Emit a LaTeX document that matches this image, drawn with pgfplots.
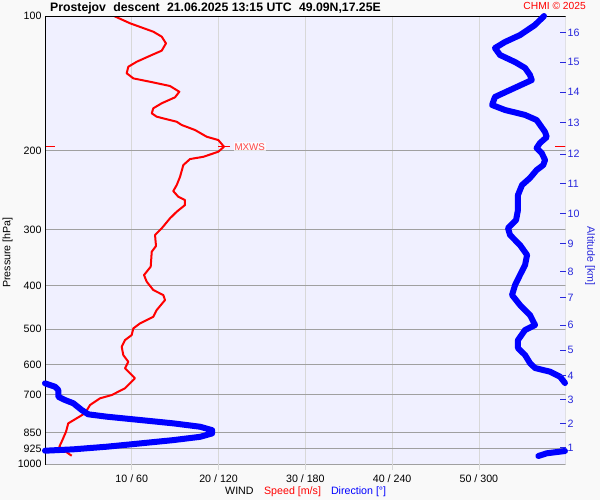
\documentclass[border=0pt]{standalone}
\usepackage{pgfplots}
\pgfplotsset{compat=1.18}
\usepackage{fontspec}
\setmainfont{Liberation Sans}
\definecolor{outerbg}{RGB}{249,249,249}
\definecolor{plotbg}{RGB}{240,240,255}
\definecolor{hgrid}{RGB}{160,160,160}
\definecolor{vgrid}{RGB}{216,216,216}
\definecolor{altblue}{RGB}{40,40,220}
\definecolor{mxred}{RGB}{255,70,70}
\newcommand{\tfont}{\fontsize{10.7}{12}\selectfont}
\begin{document}
\begin{tikzpicture}
\useasboundingbox (0,0) rectangle (600bp,500bp);
\fill[outerbg] (0,0) rectangle (600bp,500bp);
% main speed axis
\begin{axis}[
  at={(45bp,36bp)}, anchor=south west,
  width=520.7bp, height=448bp, scale only axis,
  xmin=0, xmax=60,
  ymode=log, ymin=100, ymax=1000, y dir=reverse,
  axis background/.style={fill=plotbg},
  axis line style={draw=none},
  ytick={100,200,300,400,500,600,700,850,925,1000},
  yticklabels={100,200,300,400,500,600,700,850,925,1000},
  xtick={10,20,30,40,50},
  xticklabels={10 / 60,20 / 120,30 / 180,40 / 240,50 / 300},
  xmajorgrids, ymajorgrids,
  x grid style={vgrid, line width=0.8bp},
  y grid style={hgrid, line width=0.8bp},
  tick label style={font=\tfont, inner sep=0pt},
  yticklabel style={anchor=east, xshift=2.7bp},
  xticklabel style={anchor=center, yshift=-8.3bp},
  xtick pos=bottom, tick align=outside, major tick length=6bp,
  x tick style={vgrid, line width=0.8bp},
  ytick style={draw=none},
  minor tick num=0,
  log basis y=10,
]
\addplot[red, line width=2bp, line join=round, sharp plot] coordinates {
(7.95,100) (9.79,103.8) (12.48,108.4) (13.45,111.2) (13.94,115.1) (13.45,119.5) (12.30,122.2) (10.57,126.5) (9.60,129.8) (9.41,134.2) (10.18,137.8) (12.10,140.2) (14.40,143.3) (15.48,147.6) (14.98,151.9) (13.45,156.6) (12.48,160.7) (12.30,164.9) (12.87,167.8) (15.18,172.2) (15.75,175.1) (17.29,179.7) (18.63,186.0) (19.97,189.2) (20.63,195.8) (19.97,200.9) (18.24,206.2) (16.71,208.6) (15.94,215.1) (15.56,228.5) (15.18,238.4) (14.78,245.9) (15.36,253.2) (16.13,257.5) (16.13,264.2) (15.18,273.4) (14.40,282.9) (13.45,297.8) (12.68,308.2) (12.79,326.2) (12.30,335.9) (12.18,362.7) (11.41,378.6) (11.72,391.9) (12.48,408.9) (13.63,419.6) (13.83,430.5) (12.87,453.3) (12.48,469.2) (10.95,485.4) (10.18,498.0) (9.99,515.5) (9.22,528.9) (8.84,547.4) (9.02,571.2) (9.60,591.3) (9.22,611.6) (10.37,643.8) (9.22,677.7) (7.69,701.5) (6.34,713.5) (5.19,738.5) (4.61,770.6) (2.68,811.4) (2.42,847.2) (1.92,891.8) (1.65,914.9) (2.11,930.7) (3.08,958.3)
};
% MXWS annotation
\draw[red, line width=1bp] (axis cs:19.97,196) -- (axis cs:21.32,196)
  node[right, xshift=3bp, inner sep=1bp, fill=white, fill opacity=0.7, text opacity=1, text=mxred, font=\fontsize{9.8}{11}\selectfont] {MXWS};
\draw[red, line width=1bp] ([xshift=-1.7bp]axis cs:0,196) -- (axis cs:1.15,196);
\draw[red, line width=1bp] ([xshift=-10.7bp]axis cs:60,196) -- ([xshift=2bp]axis cs:60,196);
% frame lines
\draw[vgrid, line width=1bp] (rel axis cs:1,1) -- ([yshift=-6bp]rel axis cs:1,0);
\draw[black, line width=1.1bp] ([yshift=-3bp]rel axis cs:0,0) -- (rel axis cs:0,1) -- ([xshift=25.3bp]rel axis cs:1,1);
\end{axis}
% direction axis
\begin{axis}[
  at={(45bp,36bp)}, anchor=south west,
  width=520.7bp, height=448bp, scale only axis,
  xmin=0, xmax=360,
  ymode=log, ymin=100, ymax=1000, y dir=reverse,
  hide axis, clip=false,
]
\addplot[blue, line width=6bp, line join=round, line cap=round, sharp plot] coordinates {
(345.0,100) (338.8,104.7) (328.4,110.3) (318.0,114.3) (311.1,117.9) (314.6,122.2) (325.0,126.7) (331.9,130.6) (335.3,135.4) (336.5,139.0) (321.5,146.3) (311.1,151.6) (309.1,158.0) (318.0,162.1) (331.9,166.3) (339.9,170.7) (345.7,181.5) (346.9,186.3) (342.2,192.1) (339.9,197.1) (343.4,202.2) (345.7,209.6) (344.5,215.1) (339.9,220.7) (335.3,229.9) (329.8,238.4) (327.0,250.9) (327.0,271.0) (325.7,285.3) (320.1,297.4) (321.5,308.2) (328.4,324.5) (333.3,341.6) (331.9,359.6) (328.4,378.6) (325.0,398.6) (322.9,419.6) (328.4,441.7) (335.3,465.0) (338.8,489.5) (331.9,502.2) (327.0,528.9) (327.0,551.0) (331.9,571.2) (335.3,595.2) (338.8,610.6) (349.2,622.3) (356.1,638.5) (359.5,659.6)
};
\addplot[blue, line width=6bp, line join=round, line cap=round, sharp plot] coordinates {
(0,660.6) (6.9,672.2) (9.2,683.6) (9.2,707.6) (13.8,719.7) (19.6,732.0) (25.4,757.8) (29.9,774.7) (42.7,784.2) (65.7,797.7) (88.7,811.4) (107.2,825.6) (115.5,840.2) (115.5,854.6) (107.2,869.6) (88.7,884.4) (65.7,899.6) (42.7,914.9) (19.6,927.3) (0,933.9)
};
\addplot[blue, line width=6bp, line join=round, line cap=round, sharp plot] coordinates {
(359.5,935.4) (346.9,946.4) (341.1,959.7)
};
\end{axis}
% altitude axis
\begin{axis}[
  at={(45bp,36bp)}, anchor=south west,
  width=520.7bp, height=448bp, scale only axis,
  xmin=0, xmax=1,
  ymode=log, ymin=100, ymax=1000, y dir=reverse,
  axis x line=none, axis y line*=right,
  y axis line style={draw=none},
  ytick={108.9,126.7,147.8,173.3,203.3,236.8,276.3,322.3,371.5,425.5,489.5,556.8,635.3,718.5,812.8,917.9},
  yticklabels={16,15,14,13,12,11,10,9,8,7,6,5,4,3,2,1},
  tick align=inside, major tick length=5.5bp,
  ytick style={altblue, line width=1bp},
  minor tick num=0,
  yticklabel style={font=\tfont, inner sep=0pt, anchor=west, xshift=1.8bp, text=altblue},
]
\addplot[draw=none] coordinates {(0,500)};
\end{axis}
% texts
\node[anchor=base west, inner sep=0pt, font=\bfseries\fontsize{12.3}{14}\selectfont] at (50bp,488.5bp) {Prostejov\hspace{0.6em}descent\hspace{0.6em}21.06.2025 13:15 UTC\hspace{0.6em}49.09N,17.25E};
\node[anchor=base east, inner sep=0pt, text=red, font=\fontsize{10.3}{12}\selectfont] at (586bp,490bp) {CHMI © 2025};
\node[anchor=base west, inner sep=0pt, font=\tfont] at (225bp,6bp) {WIND\hspace{10.5bp}\textcolor{red}{Speed [m/s]}\hspace{10bp}\textcolor{blue}{Direction [°]}};
\node[rotate=90, inner sep=0pt, font=\tfont] at (7.7bp,247.5bp) {Pressure [hPa]};
\node[rotate=-90, inner sep=0pt, font=\tfont, text=altblue] at (590bp,244bp) {Altitude [km]};
\end{tikzpicture}
\end{document}
